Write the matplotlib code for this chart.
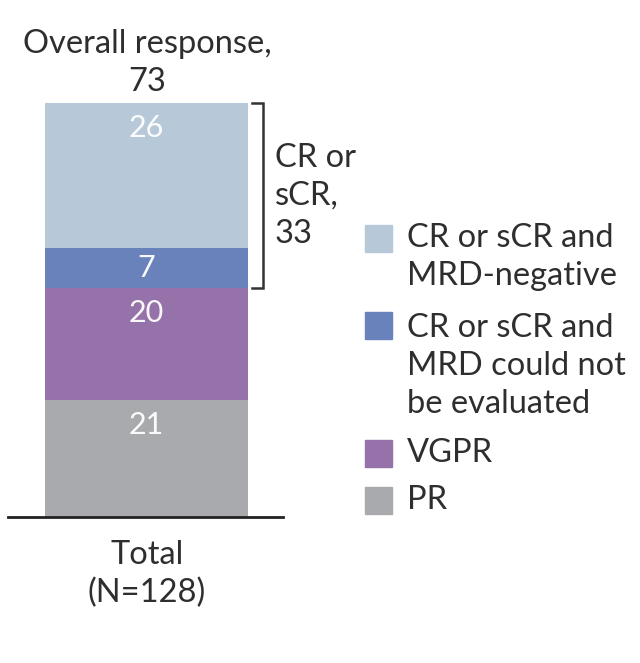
import matplotlib
matplotlib.use("Agg")
import matplotlib.pyplot as plt
from matplotlib.patches import Rectangle
import numpy as np

plt.rcParams['font.family'] = ['Lato', 'DejaVu Sans']

categories = ["PR", "VGPR", "CR or sCR and\nMRD could not\nbe evaluated", "CR or sCR and\nMRD-negative"]
values = [21, 20, 7, 26]
colors = ["#A9AAAE", "#9672AA", "#6A82BC", "#B7C9D8"]
overall = 73
cr_total = 33
n_total = 128

W, H = 640, 663
fig = plt.figure(figsize=(W / 100, H / 100), dpi=100)

def fx(px):
    return px / W

def fy(py):
    return 1 - py / H

ax_left, ax_right, ax_top, ax_bot = 8, 283, 103, 517
ax = fig.add_axes([fx(ax_left), fy(ax_bot), (ax_right - ax_left) / W, (ax_bot - ax_top) / H])
bar_w = 203
ax.set_xlim(-(146.5 - ax_left) / bar_w, (ax_right - 146.5) / bar_w)
ax.set_ylim(0, sum(values))

bottoms = np.concatenate([[0], np.cumsum(values)[:-1]])
txtc = "#2e2e2e"
fs = 23.5
ls = 1.33
for v, b, c in zip(values, bottoms, colors):
    ax.bar(0, v, bottom=b, width=1.0, color=c, edgecolor='none')
    top = b + v
    off = min(25 / 1.389, v * (414 / sum(values)) / 2 / 1.389)
    ax.annotate(str(v), xy=(0, top), xytext=(0, -off), textcoords='offset points',
                ha='center', va='center', color='white', fontsize=22, alpha=0.95)

for s in ['top', 'left', 'right']:
    ax.spines[s].set_visible(False)
ax.spines['bottom'].set_color('#222222')
ax.spines['bottom'].set_linewidth(2)
ax.set_xticks([])
ax.set_yticks([])
ax.patch.set_visible(False)

# bracket for CR or sCR
y0 = bottoms[2]
y1 = bottoms[3] + values[3]
bx = 0.5 + (263 - 248) / bar_w
bl = 0.5 + (252 - 248) / bar_w
ax.plot([bl, bx, bx, bl], [y1, y1, y0, y0], color='#333333', lw=1.8, clip_on=False,
        solid_joinstyle='miter')

fig.text(fx(275), fy(196), f"CR or\nsCR,\n{cr_total}", ha='left', va='center',
         fontsize=fs, color=txtc, linespacing=ls)

fig.text(fx(147), fy(63), f"Overall response,\n{overall}", ha='center', va='center',
         fontsize=fs, color=txtc, linespacing=ls)
fig.text(fx(147), fy(574), f"Total\n(N={n_total})", ha='center', va='center',
         fontsize=fs, color=txtc, linespacing=ls)

# legend (top to bottom)
leg_items = [(categories[3], colors[3], 238, 257),
             (categories[2], colors[2], 325, 366),
             (categories[1], colors[1], 453, 453),
             (categories[0], colors[0], 500, 500)]
for lab, c, sq_y, txt_y in leg_items:
    fig.patches.append(Rectangle((fx(365), fy(sq_y + 13.5)), 27 / W, 27 / H,
                                 transform=fig.transFigure, color=c, figure=fig))
    fig.text(fx(407), fy(txt_y), lab, ha='left', va='center', fontsize=fs,
             color=txtc, linespacing=ls)

fig.savefig("out.png", dpi=100, facecolor='white')
